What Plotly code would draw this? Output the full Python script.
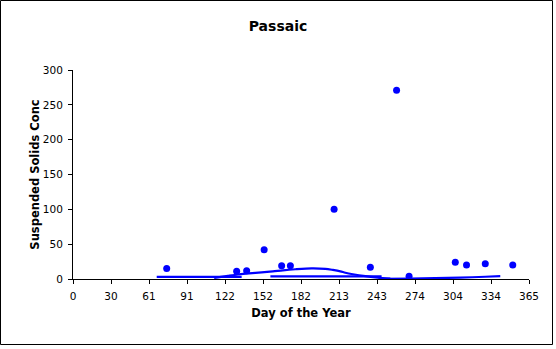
import plotly.graph_objects as go

# Measured suspended solids samples (day of year, concentration)
sample_day = [75, 131, 139, 153, 167, 174, 209, 238, 259, 269, 306, 315, 330, 352]
sample_conc = [15, 11, 12, 42, 19, 19, 100, 17, 271, 4, 24, 20, 22, 20]

# Modelled concentration traces
spring_day = [67, 135]
spring_conc = [3, 3]

summer_day = [113, 124, 132, 141, 151, 160, 168, 178, 191, 202, 208, 214, 218, 224, 234, 244, 254]
summer_conc = [1.5, 4.5, 6.5, 8, 9.6, 11, 12.5, 14, 15.3, 14.6, 13, 11, 9, 6.8, 4, 2, 0.5]

late_summer_day = [158, 247]
late_summer_conc = [3.8, 3.8]

autumn_day = [247, 270, 290, 310, 330, 342]
autumn_conc = [0.3, 0.5, 1.2, 2, 3.2, 4]

# Axis tick labels (month boundaries)
month_tick_text = ["0", "30", "61", "91", "122", "152", "182", "213", "243", "274", "304", "334", "365"]

BLUE = "#0000FF"
FONT = "DejaVu Sans"

fig = go.Figure()

for xs, ys in [(spring_day, spring_conc), (summer_day, summer_conc),
               (late_summer_day, late_summer_conc), (autumn_day, autumn_conc)]:
    fig.add_trace(go.Scatter(x=xs, y=ys, mode="lines",
                             line=dict(color=BLUE, width=2.2, shape="spline", smoothing=0.8),
                             hoverinfo="skip", showlegend=False))

fig.add_trace(go.Scatter(x=sample_day, y=sample_conc, mode="markers",
                         marker=dict(color=BLUE, size=7, line=dict(width=0)),
                         showlegend=False))

W, H = 556, 349
L, R, T, B = 73, 27, 70, 70
pw, ph = W - L - R, H - T - B

def px_x(px):
    return (px - L) / pw

def px_y(py):
    return (H - B - py) / ph

# outer chart frame
fig.add_shape(type="rect", xref="paper", yref="paper",
              x0=px_x(0.5), x1=px_x(552.5), y0=px_y(344.5), y1=px_y(0.5),
              line=dict(color="black", width=1), fillcolor="rgba(0,0,0,0)")

step = 365 / 12
fig.update_layout(
    width=W, height=H,
    margin=dict(l=L, r=R, t=T, b=B),
    paper_bgcolor="white", plot_bgcolor="white",
    font=dict(family=FONT, color="black", size=11),
    title=dict(text="<b>Passaic</b>", x=0.5, xanchor="center",
               y=1 - 26 / H, yanchor="middle", yref="container",
               font=dict(family=FONT, size=14, color="black")),
    xaxis=dict(range=[0, 365], tickmode="array",
               tickvals=[i * step for i in range(len(month_tick_text))],
               ticktext=month_tick_text,
               showline=True, linecolor="black", linewidth=1,
               ticks="outside", ticklen=4, tickcolor="black", tickwidth=1,
               showgrid=False, zeroline=False, ticklabelstandoff=3,
               tickfont=dict(family=FONT, size=10.5, color="black"),
               title=dict(text="<b>Day of the Year</b>", standoff=8,
                          font=dict(family=FONT, size=11.5, color="black"))),
    yaxis=dict(range=[0, 300], dtick=50, tick0=0,
               showline=True, linecolor="black", linewidth=1,
               ticks="outside", ticklen=4, tickcolor="black", tickwidth=1,
               showgrid=False, zeroline=False, ticklabelstandoff=3,
               tickfont=dict(family=FONT, size=10.5, color="black"),
               title=dict(text="<b>Suspended Solids Conc</b>", standoff=0,
                          font=dict(family=FONT, size=11.5, color="black"))),
)

fig.write_html("out.html")
